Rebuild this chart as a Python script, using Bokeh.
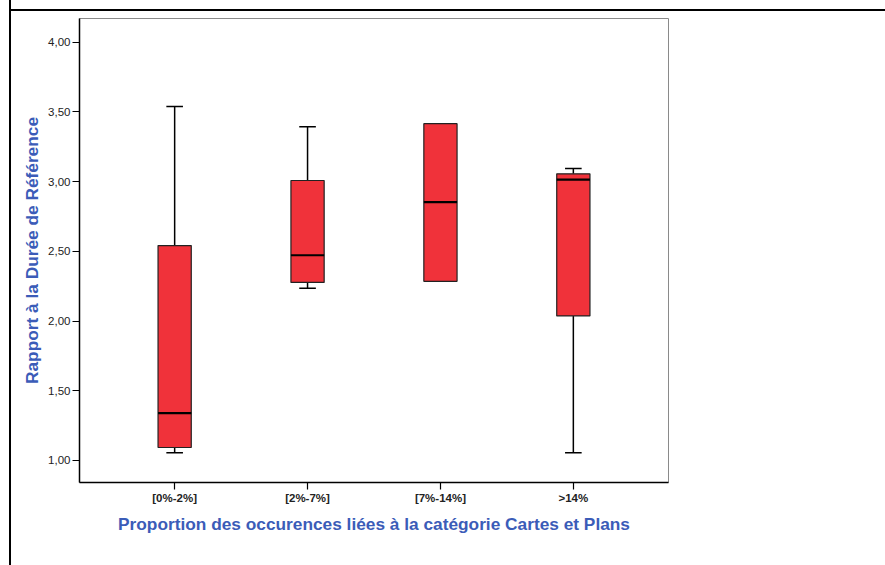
from bokeh.plotting import figure
from bokeh.models import Range1d, FixedTicker, ColumnDataSource
from bokeh.embed import file_html
from bokeh.resources import INLINE

# ---- data ----
categories = ["[0%-2%]", "[2%-7%]", "[7%-14%]", ">14%"]
whisker_low = [1.055, 2.236, 2.285, 1.055]
q1 = [1.093, 2.277, 2.285, 2.037]
median = [1.340, 2.472, 2.853, 3.015]
q3 = [2.541, 3.008, 3.416, 3.056]
whisker_high = [3.538, 3.394, 3.416, 3.094]

ytick_values = [1.0, 1.5, 2.0, 2.5, 3.0, 3.5, 4.0]
ytick_labels = ["1,00", "1,50", "2,00", "2,50", "3,00", "3,50", "4,00"]

y_label = "Rapport à la Durée de Référence"
x_label = "Proportion des occurences liées à la catégorie Cartes et Plans"

# ---- styling ----
FONT = "Liberation Sans"
BLUE = "#3B5CB8"
RED = "#F0323A"
BOX_W = 0.25
CAP_W = 0.125

xs = list(range(1, len(categories) + 1))
src = ColumnDataSource(dict(
    x=xs, lo=whisker_low, q1=q1, med=median, q3=q3, hi=whisker_high,
    cap_l=[x - CAP_W / 2 for x in xs], cap_r=[x + CAP_W / 2 for x in xs],
    box_l=[x - BOX_W / 2 for x in xs], box_r=[x + BOX_W / 2 for x in xs],
))

p = figure(width=885, height=565, output_backend="svg", toolbar_location=None,
           x_range=Range1d(0.284, 4.716), y_range=Range1d(0.842, 4.170),
           min_border_left=79, min_border_right=217, min_border_top=18,
           min_border_bottom=83)
p.background_fill_color = "white"
p.border_fill_alpha = 0
p.outline_line_color = "#8a8a8a"
p.outline_line_width = 1
p.grid.visible = False
# outer document frame lines (left and top rules of the page)
p.styles = {
    "background": "linear-gradient(#000,#000) 9px 0px / 2px 100% no-repeat, "
                  "linear-gradient(#000,#000) 9px 9px / 100% 2px no-repeat, #ffffff",
}

# whiskers
p.segment(x0="x", y0="q3", x1="x", y1="hi", source=src, line_color="black", line_width=1.5)
p.segment(x0="x", y0="lo", x1="x", y1="q1", source=src, line_color="black", line_width=1.5)
p.segment(x0="cap_l", y0="hi", x1="cap_r", y1="hi", source=src, line_color="black", line_width=1.5)
p.segment(x0="cap_l", y0="lo", x1="cap_r", y1="lo", source=src, line_color="black", line_width=1.5)
# boxes
p.vbar(x="x", width=BOX_W, bottom="q1", top="q3", source=src,
       fill_color=RED, line_color="#222222", line_width=1.2)
# medians
p.segment(x0="box_l", y0="med", x1="box_r", y1="med", source=src, line_color="black", line_width=2.2)

# axes
p.xaxis.ticker = FixedTicker(ticks=xs)
p.xaxis.major_label_overrides = {x: c for x, c in zip(xs, categories)}
p.yaxis.ticker = FixedTicker(ticks=ytick_values)
p.yaxis.major_label_overrides = {v: l for v, l in zip(ytick_values, ytick_labels)}

for ax in (p.xaxis[0], p.yaxis[0]):
    ax.axis_line_color = "black"
    ax.axis_line_width = 1.5
    ax.major_tick_line_color = "black"
    ax.major_tick_line_width = 1.2
    ax.major_tick_out = 7
    ax.major_tick_in = 0
    ax.minor_tick_line_color = None
    ax.major_label_text_font = FONT
    ax.major_label_text_font_size = "11.5px"
    ax.major_label_text_color = "#222222"
    ax.axis_label_text_font = FONT
    ax.axis_label_text_font_size = "17.3px"
    ax.axis_label_text_font_style = "bold"
    ax.axis_label_text_color = BLUE

p.xaxis.major_label_text_font_style = "bold"
p.xaxis.major_label_standoff = 2
p.xaxis.axis_label = x_label
p.xaxis.axis_label_standoff = 7
p.yaxis.major_label_standoff = 2
p.yaxis.axis_label = y_label
p.yaxis.axis_label_standoff = 3

open("out.html", "w").write(file_html(p, INLINE))
